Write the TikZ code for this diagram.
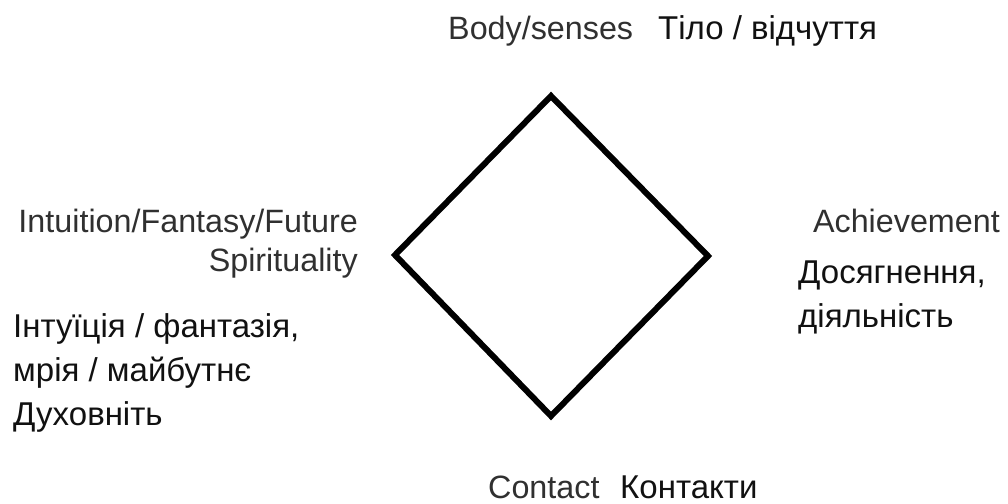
\documentclass[tikz,border=0pt]{standalone}
\usepackage{fontspec}
\setmainfont{Liberation Sans}
\definecolor{entext}{HTML}{303030}
\definecolor{uatext}{HTML}{111111}
\begin{document}
\begin{tikzpicture}[x=1pt,y=-1pt,
  en/.style={inner sep=0pt,text=entext,font=\fontsize{32.3}{38}\selectfont},
  ua/.style={inner sep=0pt,text=uatext,font=\fontsize{33}{38}\selectfont},
  shape line/.style={line width=6pt,line join=miter,draw=black}]
\useasboundingbox (0,0) rectangle (1008,503);
\fill[white] (0,0) rectangle (1008,503);
% diamond
\coordinate (T) at (551,96);
\coordinate (R) at (708,256);
\coordinate (B) at (551,416);
\coordinate (L) at (395,255);
\draw[shape line] (T) -- (R) -- (B) -- (L) -- cycle;
% top
\node[en,anchor=base west] (body) at (448,40) {Body/senses};
\node[ua,anchor=base west] (bodyua) at (658,40) {Тіло / відчуття};
% left
\node[en,anchor=base east] (intu) at (358,232) {Intuition/Fantasy/Future};
\node[en,anchor=base east] (spir) at (358,271) {Spirituality};
\node[ua,anchor=base west] (ua1) at (13,337) {Інтуїція / фантазія,};
\node[ua,anchor=base west] (ua2) at (13,381) {мрія / майбутнє};
\node[ua,anchor=base west] (ua3) at (13,425) {Духовніть};
% right
\node[en,anchor=base east] (ach) at (1000,232) {Achievement};
\node[ua,anchor=base west] (ach1) at (798,283) {Досягнення,};
\node[ua,anchor=base west] (ach2) at (798,327) {діяльність};
% bottom
\node[en,anchor=base west] (cont) at (488,498) {Contact};
\node[ua,anchor=base west] (contua) at (620,498) {Контакти};
\end{tikzpicture}
\end{document}
